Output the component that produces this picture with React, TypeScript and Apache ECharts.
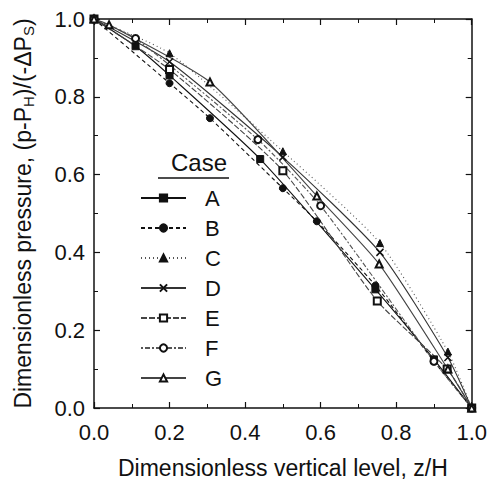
import React, { useEffect, useRef } from "react";
import * as echarts from "echarts";

// Measured dimensionless pressure profiles, one array per case: [z/H, (p-P_H)/(-ΔP_S)]
const caseA: [number, number][] = [[0, 1], [0.11, 0.93], [0.2, 0.855], [0.44, 0.64], [0.745, 0.305], [0.9, 0.125], [1, 0]];
const caseB: [number, number][] = [[0, 1], [0.2, 0.835], [0.307, 0.745], [0.5, 0.565], [0.59, 0.48], [0.745, 0.315], [0.9, 0.12], [1, 0]];
const caseC: [number, number][] = [[0, 1], [0.2, 0.912], [0.5, 0.66], [0.757, 0.424], [0.937, 0.145], [1, 0]];
const caseD: [number, number][] = [[0, 1], [0.2, 0.89], [0.5, 0.645], [0.757, 0.4], [0.937, 0.13], [1, 0]];
const caseE: [number, number][] = [[0, 1], [0.2, 0.87], [0.5, 0.61], [0.75, 0.275], [0.935, 0.1], [1, 0]];
const caseF: [number, number][] = [[0, 1], [0.11, 0.95], [0.434, 0.69], [0.6, 0.52], [0.9, 0.12], [1, 0]];
const caseG: [number, number][] = [[0, 1], [0.04, 0.985], [0.307, 0.838], [0.59, 0.545], [0.755, 0.37], [0.937, 0.1], [1, 0]];

const caseNames = ["A", "B", "C", "D", "E", "F", "G"];
const caseData = [caseA, caseB, caseC, caseD, caseE, caseF, caseG];
const caseSymbols = ["rect", "circle", "triangle", "path://M0,0L10,10M10,0L0,10", "emptyRect", "emptyCircle", "emptyTriangle"];
const caseLineTypes: any[] = ["solid", [4, 3], [1, 3], "solid", [6, 2], [2, 2, 5, 2], "solid"];
const caseColors = ["#111", "#111", "#555", "#333", "#444", "#555", "#444"];

const FONT = "'Liberation Sans', Arial, sans-serif";

export default function App() {
  const ref = useRef<HTMLDivElement>(null);

  useEffect(() => {
    if (!ref.current) return;
    const chart = echarts.init(ref.current, undefined, { renderer: "svg" });

    const series = caseNames.map((name, i) => ({
      name,
      type: "line",
      data: caseData[i],
      smooth: 0.2,
      symbol: caseSymbols[i],
      symbolSize: 7,
      showSymbol: true,
      lineStyle: { color: caseColors[i], width: 1.1, type: caseLineTypes[i] },
      itemStyle: {
        color: "#111",
        borderColor: "#111",
        borderWidth: i === 3 ? 1.5 : 1,
      },
      z: 3,
    }));

    const axisCommon = {
      type: "value",
      min: 0,
      max: 1,
      interval: 0.2,
      axisLine: { show: true, onZero: false, lineStyle: { color: "#111", width: 1.5 } },
      axisTick: { show: true, inside: true, length: 6, lineStyle: { color: "#111", width: 1.2 } },
      minorTick: { show: true, splitNumber: 2, length: 4, lineStyle: { color: "#111", width: 1 } },
      splitLine: { show: false },
    };

    chart.setOption({
      animation: false,
      backgroundColor: "#fff",
      textStyle: { fontFamily: FONT },
      grid: { left: 94, right: 18, top: 19, bottom: 79, containLabel: false },
      xAxis: [
        {
          ...axisCommon,
          position: "bottom",
          name: "Dimensionless vertical level, z/H",
          nameLocation: "middle",
          nameGap: 48,
          nameTextStyle: { fontSize: 23, color: "#111", fontFamily: FONT },
          axisLabel: {
            fontSize: 22,
            color: "#111",
            margin: 13,
            fontFamily: FONT,
            formatter: (v: number) => v.toFixed(1),
          },
        },
        {
          ...axisCommon,
          position: "top",
          axisLabel: { show: false },
        },
      ],
      yAxis: [
        {
          ...axisCommon,
          position: "left",
          name: "Dimensionless pressure, (p-P{s|H})/(-ΔP{s|S})",
          nameLocation: "middle",
          nameGap: 58,
          nameTextStyle: {
            fontSize: 23,
            color: "#111",
            fontFamily: FONT,
            rich: { s: { fontSize: 15, verticalAlign: "bottom", padding: [12, 0, 0, 0], color: "#111", fontFamily: FONT } },
          },
          axisLabel: {
            fontSize: 22,
            color: "#111",
            margin: 9,
            fontFamily: FONT,
            formatter: (v: number) => v.toFixed(1),
          },
        },
        {
          ...axisCommon,
          position: "right",
          axisLabel: { show: false },
        },
      ],
      legend: {
        data: caseNames,
        orient: "vertical",
        left: 135,
        top: 181,
        itemWidth: 45,
        itemHeight: 9,
        itemGap: 6,
        textStyle: { fontSize: 22, color: "#111", fontFamily: FONT, padding: [0, 0, 0, 14], lineHeight: 24 },
        selectedMode: false,
      },
      graphic: [
        {
          type: "text",
          left: 171,
          top: 150,
          style: { text: "Case", fontSize: 24, fill: "#111", fontFamily: FONT },
        },
        {
          type: "line",
          shape: { x1: 158, y1: 178, x2: 229, y2: 178 },
          style: { stroke: "#111", lineWidth: 1.5 },
        },
      ],
      series,
    });

    return () => chart.dispose();
  }, []);

  return <div ref={ref} style={{ position: "fixed", left: 0, top: 0, width: 490, height: 487 }} />;
}
